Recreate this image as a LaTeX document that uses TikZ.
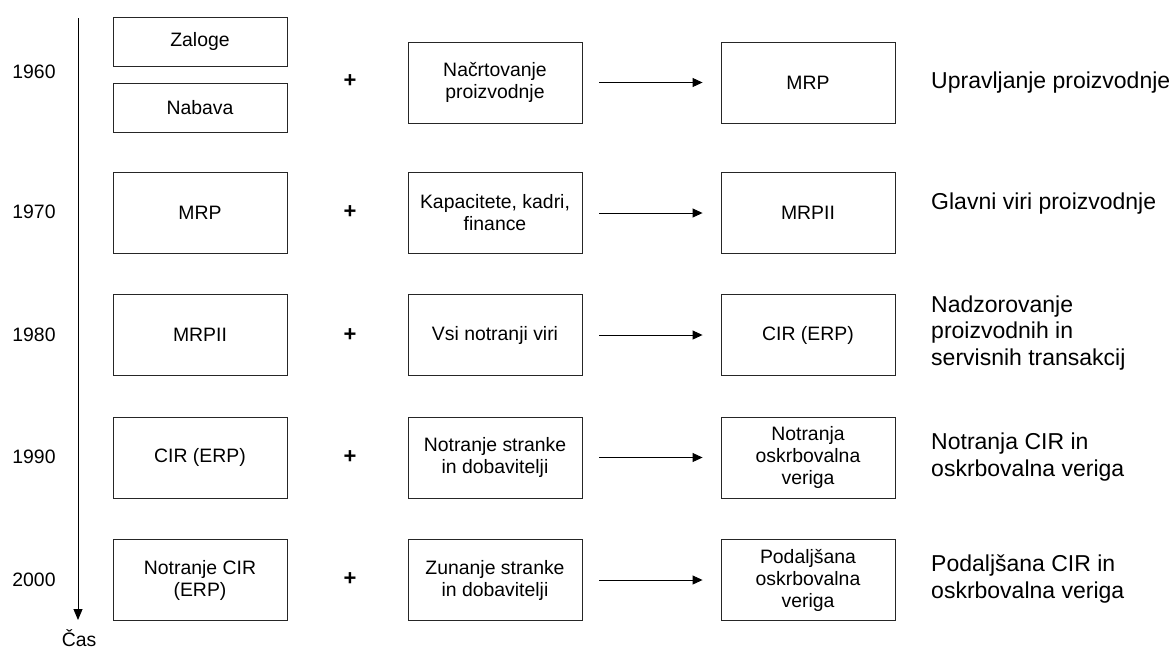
\documentclass[tikz,border=0pt]{standalone}
\usepackage{fontspec}
\setmainfont{Liberation Sans}
\usetikzlibrary{arrows.meta}
\begin{document}
\begin{tikzpicture}[x=1pt,y=-1pt,
  box/.style={draw=black!85,line width=0.9pt,minimum width=174pt,align=center,inner sep=2pt,
    font=\fontsize{19.4}{22}\selectfont},
  tall/.style={box,minimum height=81pt},
  short/.style={box,minimum height=49pt},
  year/.style={font=\fontsize{19.4}{22}\selectfont},
  plus/.style={font=\fontsize{22}{22}\selectfont\bfseries},
  desc/.style={anchor=west,align=left,inner sep=0pt,font=\fontsize{23}{26.7}\selectfont},
  conn/.style={line width=0.9pt,-{Triangle[length=10pt,width=9pt]},shorten <=17pt,shorten >=18pt}]
\useasboundingbox (0,0) rectangle (1174,649);
% time axis
\coordinate (t0) at (78,18);
\coordinate (t1) at (78,620);
\draw[line width=0.9pt,-{Triangle[length=11pt,width=9pt]}] (t0) -- (t1);
\node[year,inner sep=0pt,anchor=base] (cas) at (79,646) {Čas};
% years
\node[year] (y1) at (34,72) {1960};
\node[year] (y2) at (34,212) {1970};
\node[year] (y3) at (34,335) {1980};
\node[year] (y4) at (34,457) {1990};
\node[year] (y5) at (34,580) {2000};
% row 1960
\node[short] (a1) at (200,41.5) {Zaloge};
\node[short] (a1b) at (200,107.5) {Nabava};
\node[plus] (p1) at (350,81) {+};
\node[tall] (b1) at (495,82.5) {Načrtovanje\\proizvodnje};
\node[tall] (c1) at (808,82.5) {MRP};
\node[desc] (d1) at (931,83) {Upravljanje proizvodnje};
% row 1970
\node[tall] (a2) at (200,213) {MRP};
\node[plus] (p2) at (350,212) {+};
\node[tall] (b2) at (495,213) {Kapacitete, kadri,\\finance};
\node[tall] (c2) at (808,213) {MRPII};
\node[desc] (d2) at (931,204) {Glavni viri proizvodnje};
% row 1980
\node[tall] (a3) at (200,335) {MRPII};
\node[plus] (p3) at (350,335) {+};
\node[tall] (b3) at (495,335) {Vsi notranji viri};
\node[tall] (c3) at (808,335) {CIR (ERP)};
\node[desc] (d3) at (931,333) {Nadzorovanje\\proizvodnih in\\servisnih transakcij};
% row 1990
\node[tall] (a4) at (200,457.5) {CIR (ERP)};
\node[plus] (p4) at (350,457) {+};
\node[tall] (b4) at (495,457.5) {Notranje stranke\\in dobavitelji};
\node[tall] (c4) at (808,457.5) {Notranja\\oskrbovalna\\veriga};
\node[desc] (d4) at (931,457) {Notranja CIR in\\oskrbovalna veriga};
% row 2000
\node[tall] (a5) at (200,580) {Notranje CIR\\(ERP)};
\node[plus] (p5) at (350,579) {+};
\node[tall] (b5) at (495,580) {Zunanje stranke\\in dobavitelji};
\node[tall] (c5) at (808,580) {Podaljšana\\oskrbovalna\\veriga};
\node[desc] (d5) at (931,579) {Podaljšana CIR in\\oskrbovalna veriga};
% connectors
\draw[conn] (b1) -- (c1);
\draw[conn] (b2) -- (c2);
\draw[conn] (b3) -- (c3);
\draw[conn] (b4) -- (c4);
\draw[conn] (b5) -- (c5);
\end{tikzpicture}
\end{document}
